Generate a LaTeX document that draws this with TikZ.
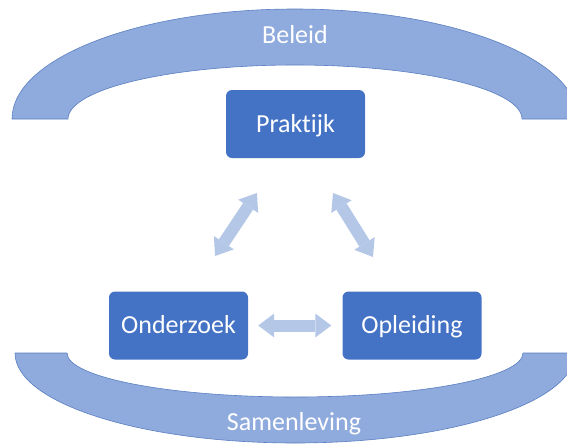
\documentclass[tikz,border=0pt]{standalone}
\usepackage{fontspec}
\setmainfont[Ligatures=NoCommon]{Carlito}
\usetikzlibrary{arrows.meta}
\definecolor{boxblue}{HTML}{4472C4}
\definecolor{bandblue}{HTML}{8FAADC}
\definecolor{bandedge}{HTML}{5A7FC2}
\definecolor{linkblue}{HTML}{B4C7E7}

\begin{document}
\begin{tikzpicture}[x=1pt,y=-1pt,
  stage/.style={fill=boxblue, rounded corners=6pt, text=white,
    minimum width=139pt, minimum height=68pt,
    text height=16pt, text depth=0pt,
    font=\fontsize{26}{30}\selectfont},
  band/.style={fill=bandblue, draw=bandedge, line width=0.6pt},
  bandlabel/.style={text=white, anchor=base, inner sep=0pt,
    font=\fontsize{26}{30}\selectfont},
  linkhead/.tip={Triangle[length=16pt,width=24pt,line width=0pt]},
  link/.style={draw=linkblue, line width=12pt, linkhead-linkhead}]

\useasboundingbox (0,0) rectangle (567,445);
\clip (0,0) rectangle (567,445);

% upper band: policy
\draw[band] (12,119) arc[start angle=180, end angle=0, x radius=283pt, y radius=110pt]
  -- (522,119) arc[start angle=0, end angle=180, x radius=227pt, y radius=54pt] -- cycle;
\node[bandlabel] (beleid) at (295,43) {Beleid};

% lower band: society
\draw[band] (15,353) arc[start angle=180, end angle=360, x radius=280pt, y radius=90pt]
  -- (523,353) arc[start angle=0, end angle=-180, x radius=228pt, y radius=44pt] -- cycle;
\node[bandlabel] (samenleving) at (294,430) {Samenleving};

% the three stages (kern keeps t and i as separate glyphs)
\node[stage] (praktijk)  at (295.5,124)  {Prakt\kern0pt ijk};
\node[stage] (onderzoek) at (178.5,325.5) {Onderzoek};
\node[stage] (opleiding) at (412,325.5)  {Opleiding};

% two-way links
\coordinate (ol) at (215,256);
\coordinate (pl) at (257,193);
\coordinate (pr) at (333,193);
\coordinate (or) at (373,257);
\draw[link] (ol) -- (pl);
\draw[link] (pr) -- (or);
\draw[link, shorten <=10pt, shorten >=11pt] (onderzoek) -- (opleiding);
\end{tikzpicture}
\end{document}
